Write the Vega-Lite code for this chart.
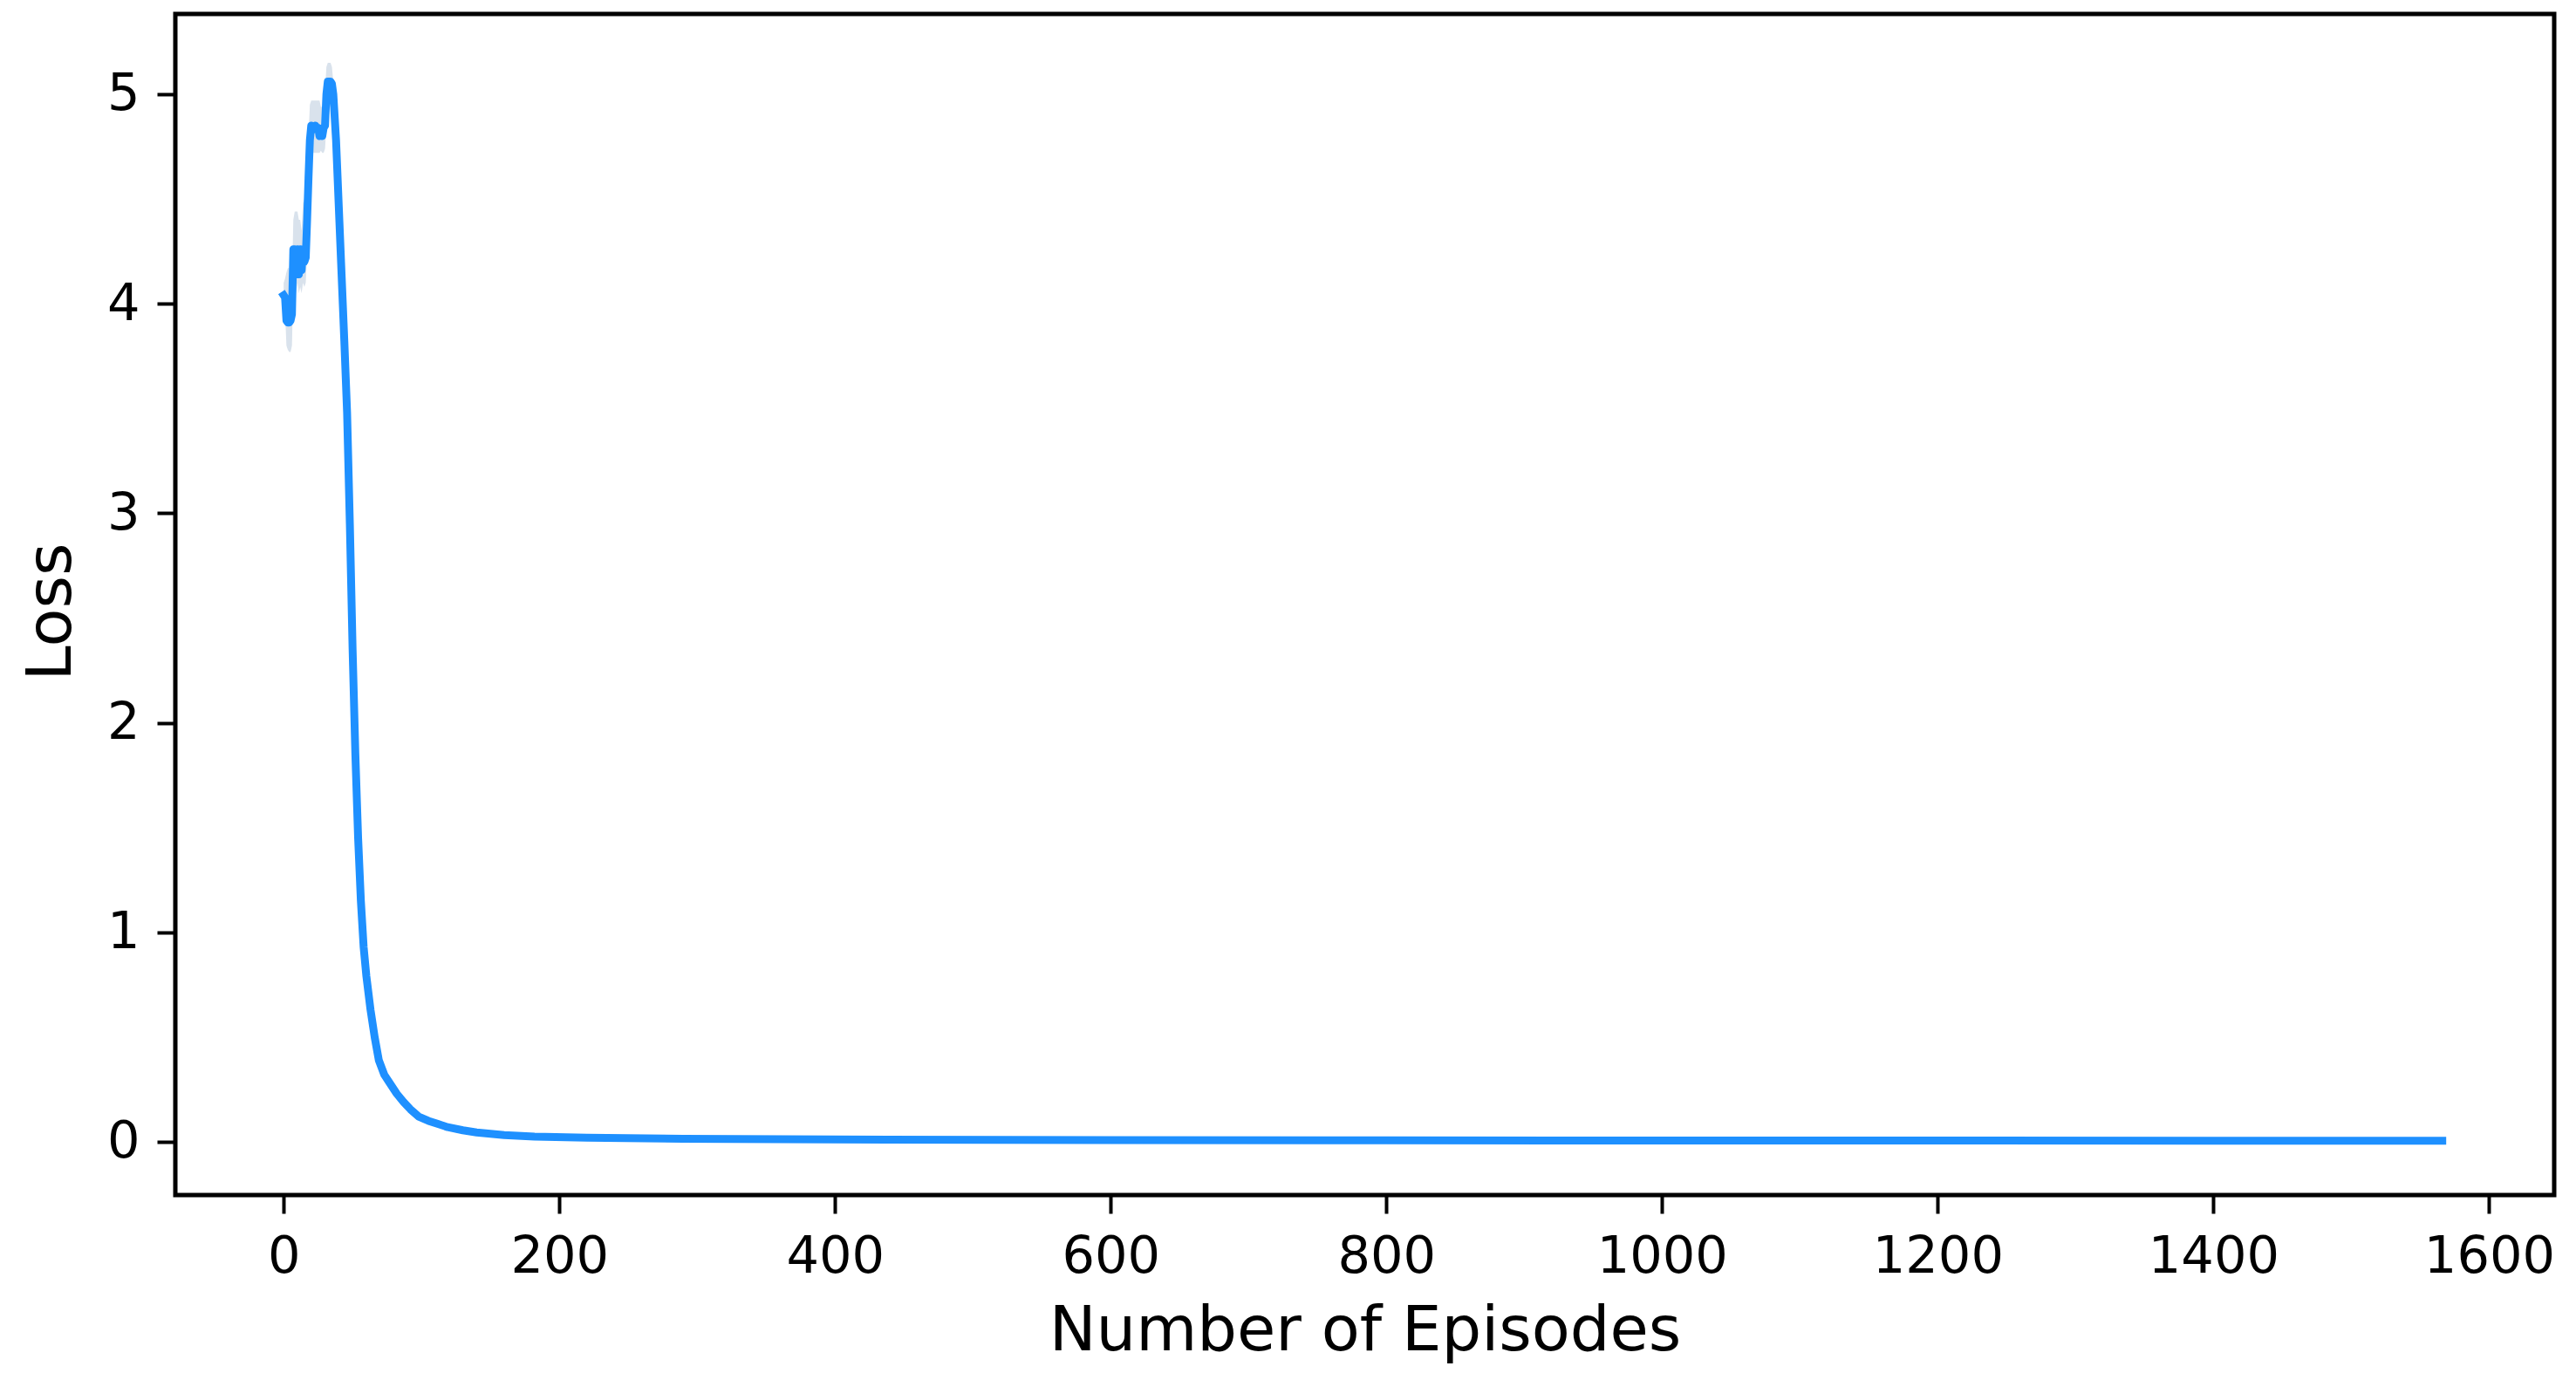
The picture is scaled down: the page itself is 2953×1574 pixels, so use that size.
{
  "$schema": "https://vega.github.io/schema/vega-lite/v6.json",
  "autosize": {"type": "none"},
  "width": 2727,
  "height": 1354,
  "padding": {"left": 201, "top": 16, "right": 25, "bottom": 204},
  "background": "white",
  "config": {
    "view": {"stroke": "black", "strokeWidth": 5},
    "axis": {
      "grid": false,
      "domain": false,
      "tickColor": "black",
      "tickSize": 21,
      "tickWidth": 4,
      "labelFont": "DejaVu Sans",
      "labelFontSize": 59,
      "labelColor": "black",
      "titleFont": "DejaVu Sans",
      "titleFontSize": 72,
      "titleFontWeight": "normal",
      "titleColor": "black"
    }
  },
  "data": {
    "values": [
      {"ep": 0, "loss": 4.04, "lo": 3.98, "hi": 4.10},
      {"ep": 1, "loss": 4.03, "lo": 3.96, "hi": 4.12},
      {"ep": 2, "loss": 3.92, "lo": 3.80, "hi": 4.15},
      {"ep": 3, "loss": 3.91, "lo": 3.78, "hi": 4.17},
      {"ep": 4, "loss": 3.91, "lo": 3.77, "hi": 4.17},
      {"ep": 5, "loss": 3.92, "lo": 3.77, "hi": 4.10},
      {"ep": 6, "loss": 3.95, "lo": 3.80, "hi": 4.10},
      {"ep": 7, "loss": 4.26, "lo": 4.10, "hi": 4.40},
      {"ep": 8, "loss": 4.26, "lo": 4.12, "hi": 4.44},
      {"ep": 9, "loss": 4.14, "lo": 4.05, "hi": 4.44},
      {"ep": 10, "loss": 4.26, "lo": 4.10, "hi": 4.44},
      {"ep": 11, "loss": 4.14, "lo": 4.05, "hi": 4.40},
      {"ep": 12, "loss": 4.26, "lo": 4.08, "hi": 4.40},
      {"ep": 13, "loss": 4.16, "lo": 4.05, "hi": 4.35},
      {"ep": 14, "loss": 4.26, "lo": 4.10, "hi": 4.48},
      {"ep": 15, "loss": 4.20, "lo": 4.08, "hi": 4.50},
      {"ep": 16, "loss": 4.22, "lo": 4.10, "hi": 4.52},
      {"ep": 17, "loss": 4.40, "lo": 4.25, "hi": 4.60},
      {"ep": 18, "loss": 4.60, "lo": 4.45, "hi": 4.80},
      {"ep": 19, "loss": 4.78, "lo": 4.60, "hi": 4.95},
      {"ep": 20, "loss": 4.85, "lo": 4.72, "hi": 4.97},
      {"ep": 21, "loss": 4.84, "lo": 4.72, "hi": 4.97},
      {"ep": 22, "loss": 4.84, "lo": 4.72, "hi": 4.97},
      {"ep": 23, "loss": 4.85, "lo": 4.72, "hi": 4.97},
      {"ep": 24, "loss": 4.83, "lo": 4.72, "hi": 4.97},
      {"ep": 25, "loss": 4.84, "lo": 4.72, "hi": 4.97},
      {"ep": 26, "loss": 4.80, "lo": 4.72, "hi": 4.97},
      {"ep": 27, "loss": 4.81, "lo": 4.73, "hi": 4.94},
      {"ep": 28, "loss": 4.80, "lo": 4.72, "hi": 4.94},
      {"ep": 29, "loss": 4.84, "lo": 4.72, "hi": 4.95},
      {"ep": 30, "loss": 4.85, "lo": 4.74, "hi": 5.02},
      {"ep": 31, "loss": 5.00, "lo": 4.85, "hi": 5.13},
      {"ep": 32, "loss": 5.06, "lo": 4.96, "hi": 5.15},
      {"ep": 33, "loss": 5.06, "lo": 4.98, "hi": 5.15},
      {"ep": 34, "loss": 5.06, "lo": 4.99, "hi": 5.15},
      {"ep": 35, "loss": 5.05, "lo": 4.98, "hi": 5.13},
      {"ep": 36, "loss": 5.00, "lo": 4.94, "hi": 5.06},
      {"ep": 38, "loss": 4.78, "lo": 4.73, "hi": 4.83},
      {"ep": 40, "loss": 4.46, "lo": 4.42, "hi": 4.50},
      {"ep": 42, "loss": 4.14, "lo": 4.10, "hi": 4.18},
      {"ep": 44, "loss": 3.82, "lo": 3.78, "hi": 3.86},
      {"ep": 46, "loss": 3.48, "lo": 3.44, "hi": 3.52},
      {"ep": 48, "loss": 2.95, "lo": 2.91, "hi": 2.99},
      {"ep": 50, "loss": 2.35, "lo": 2.31, "hi": 2.39},
      {"ep": 52, "loss": 1.85, "lo": 1.82, "hi": 1.88},
      {"ep": 54, "loss": 1.45, "lo": 1.42, "hi": 1.48},
      {"ep": 56, "loss": 1.15, "lo": 1.13, "hi": 1.17},
      {"ep": 58, "loss": 0.93, "lo": 0.91, "hi": 0.95},
      {"ep": 60, "loss": 0.79, "lo": 0.77, "hi": 0.81},
      {"ep": 63, "loss": 0.63},
      {"ep": 66, "loss": 0.50},
      {"ep": 69, "loss": 0.39},
      {"ep": 73, "loss": 0.32},
      {"ep": 77, "loss": 0.28},
      {"ep": 82, "loss": 0.23},
      {"ep": 87, "loss": 0.19},
      {"ep": 92, "loss": 0.155},
      {"ep": 98, "loss": 0.12},
      {"ep": 105, "loss": 0.10},
      {"ep": 112, "loss": 0.085},
      {"ep": 119, "loss": 0.07},
      {"ep": 130, "loss": 0.055},
      {"ep": 140, "loss": 0.045},
      {"ep": 160, "loss": 0.032},
      {"ep": 182, "loss": 0.025},
      {"ep": 220, "loss": 0.02},
      {"ep": 290, "loss": 0.015},
      {"ep": 400, "loss": 0.011},
      {"ep": 600, "loss": 0.008},
      {"ep": 800, "loss": 0.007},
      {"ep": 1000, "loss": 0.006},
      {"ep": 1200, "loss": 0.006},
      {"ep": 1400, "loss": 0.005},
      {"ep": 1566, "loss": 0.005}
    ]
  },
  "encoding": {
    "x": {
      "field": "ep",
      "type": "quantitative",
      "scale": {"domain": [-78.6, 1647.2], "nice": false, "zero": false},
      "axis": {
        "title": "Number of Episodes",
        "values": [0, 200, 400, 600, 800, 1000, 1200, 1400, 1600],
        "format": "d",
        "labelPadding": 20,
        "titleBaseline": "alphabetic",
        "titleY": 177,
        "titleAnchor": "middle"
      }
    }
  },
  "layer": [
    {
      "mark": {"type": "area", "color": "#d9e2ec", "opacity": 1},
      "encoding": {
        "y": {"field": "lo", "type": "quantitative"},
        "y2": {"field": "hi"}
      }
    },
    {
      "mark": {"type": "line", "color": "#1E90FF", "strokeWidth": 9, "strokeCap": "square", "strokeJoin": "round"},
      "encoding": {
        "y": {
          "field": "loss",
          "type": "quantitative",
          "scale": {"domain": [-0.254, 5.383], "nice": false, "zero": false},
          "axis": {
            "title": "Loss",
            "values": [0, 1, 2, 3, 4, 5],
            "format": "d",
            "labelPadding": 20,
            "titleAngle": -90,
            "titleBaseline": "alphabetic",
            "titleX": -121,
            "titleY": 685,
            "titleAnchor": "middle"
          }
        }
      }
    }
  ]
}
